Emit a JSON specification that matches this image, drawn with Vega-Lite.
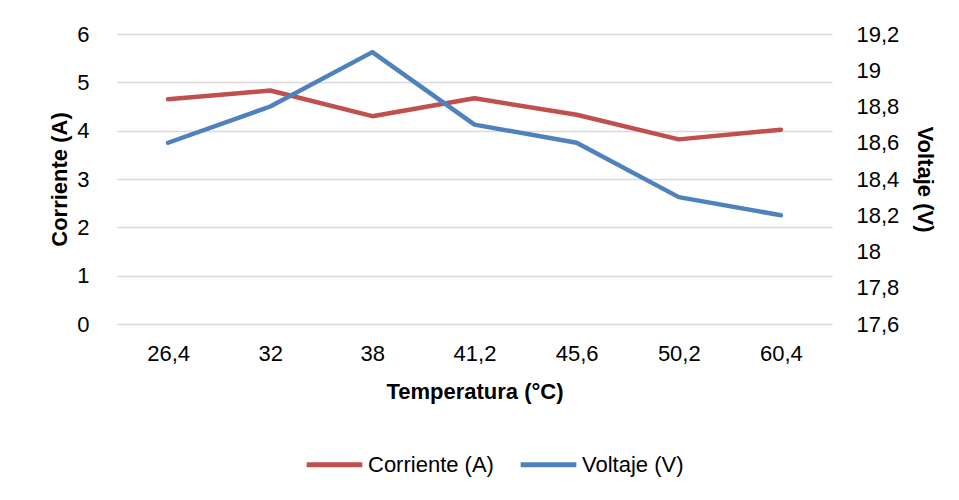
{
  "$schema": "https://vega.github.io/schema/vega-lite/v6.json",
  "autosize": "none",
  "width": 715,
  "height": 290,
  "padding": {"left": 117, "top": 34, "right": 127, "bottom": 176},
  "background": "white",
  "config": {
    "locale": {"number": {"decimal": ",", "thousands": ".", "grouping": [3], "currency": ["", " €"]}},
    "font": "Liberation Sans",
    "view": {"stroke": null},
    "axis": {"labelFont": "Liberation Sans", "titleFont": "Liberation Sans", "labelColor": "#000", "titleColor": "#000"}
  },
  "data": {
    "values": [
      {"temp": "26,4", "corriente": 4.65, "voltaje": 18.6},
      {"temp": "32", "corriente": 4.83, "voltaje": 18.8},
      {"temp": "38", "corriente": 4.30, "voltaje": 19.1},
      {"temp": "41,2", "corriente": 4.67, "voltaje": 18.7},
      {"temp": "45,6", "corriente": 4.33, "voltaje": 18.6},
      {"temp": "50,2", "corriente": 3.82, "voltaje": 18.3},
      {"temp": "60,4", "corriente": 4.02, "voltaje": 18.2}
    ]
  },
  "encoding": {
    "x": {
      "field": "temp", "type": "ordinal", "sort": null,
      "scale": {"type": "point", "padding": 0.5},
      "axis": {
        "title": "Temperatura (°C)", "labelAngle": 0, "labelFontSize": 22, "labelPadding": 19,
        "titleFontSize": 22, "titleFontWeight": "bold", "titlePadding": 17,
        "domain": false, "ticks": false, "grid": false
      }
    }
  },
  "layer": [
    {
      "mark": {"type": "line", "strokeWidth": 4.5, "strokeCap": "round", "strokeJoin": "round"},
      "encoding": {
        "y": {
          "field": "corriente", "type": "quantitative",
          "scale": {"domain": [0, 6], "nice": false, "zero": false},
          "axis": {
            "title": "Corriente (A)", "values": [0, 1, 2, 3, 4, 5, 6], "format": "~g",
            "labelFontSize": 22, "labelPadding": 28, "titleFontSize": 22, "titleFontWeight": "bold", "titlePadding": 5,
            "domain": false, "ticks": false, "grid": true, "gridColor": "#d9d9d9", "gridWidth": 1.5
          }
        },
        "color": {
          "datum": "Corriente (A)", "type": "nominal",
          "scale": {"domain": ["Corriente (A)", "Voltaje (V)"], "range": ["#C0504D", "#4F81BD"]},
          "legend": {
            "title": null, "orient": "none", "legendX": 187, "legendY": 400, "direction": "horizontal",
            "symbolType": "stroke", "symbolSize": 3100, "symbolStrokeWidth": 5,
            "labelFontSize": 22, "labelColor": "#000", "labelFont": "Liberation Sans", "labelOffset": 3, "columnPadding": 16
          }
        }
      }
    },
    {
      "mark": {"type": "line", "strokeWidth": 4.5, "strokeCap": "round", "strokeJoin": "round"},
      "encoding": {
        "y": {
          "field": "voltaje", "type": "quantitative",
          "scale": {"domain": [17.6, 19.2], "nice": false, "zero": false},
          "axis": {
            "orient": "right", "title": "Voltaje (V)", "values": [17.6, 17.8, 18, 18.2, 18.4, 18.6, 18.8, 19, 19.2], "format": "~g",
            "labelFontSize": 22, "labelPadding": 24, "titleFontSize": 22, "titleFontWeight": "bold", "titlePadding": 14,
            "domain": false, "ticks": false, "grid": false
          }
        },
        "color": {"datum": "Voltaje (V)", "type": "nominal"}
      }
    }
  ],
  "resolve": {"scale": {"y": "independent"}}
}
